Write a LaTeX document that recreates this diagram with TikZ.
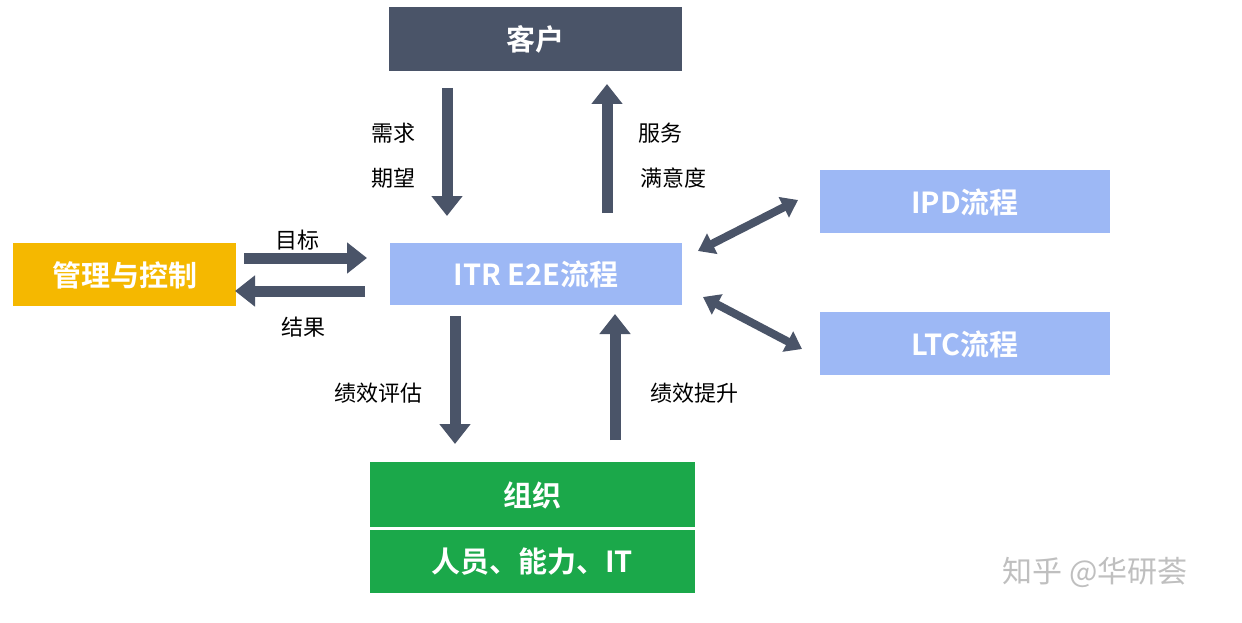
\documentclass[tikz,border=0pt]{standalone}
\usepackage{fontspec}
\setmainfont{Noto Sans CJK SC}
\newfontfamily\cjkb{Noto Sans CJK SC Bold}
\usetikzlibrary{arrows.meta}
\definecolor{slate}{HTML}{4A5468}
\definecolor{lblue}{HTML}{9DB8F5}
\definecolor{orng}{HTML}{F5B800}
\definecolor{grn}{HTML}{1BA84A}
\tikzset{
  box/.style={draw=none,inner sep=0pt,text=white,font=\cjkb\fontsize{29}{32}\selectfont},
  lbl/.style={font=\fontsize{22}{26}\selectfont,text=black},
  bar/.style={draw=slate,line width=11pt,-{Triangle[width=30pt,length=20pt]}},
  dbar/.style={draw=slate,line width=8pt,{Triangle[width=22pt,length=16pt]}-{Triangle[width=22pt,length=16pt]}}
}
\begin{document}
\begin{tikzpicture}[x=1pt,y=-1pt]
\useasboundingbox[fill=white] (0,0) rectangle (1242,623);
\fill[slate] (389,7) rectangle (682,71);
\node[box] (kh) at (535.5,39) {客户};
\fill[lblue] (390,243) rectangle (682,305);
\node[box] (itr) at (536,274) {ITR E2E流程};
\fill[lblue] (820,170) rectangle (1110,233);
\node[box] (ipd) at (965,202) {IPD流程};
\fill[lblue] (820,312) rectangle (1110,375);
\node[box] (ltc) at (965,344) {LTC流程};
\fill[orng] (13,243) rectangle (236,306);
\node[box] (gl) at (124.5,275) {管理与控制};
\fill[grn] (370,462) rectangle (695,527);
\fill[grn] (370,530) rectangle (695,593);
\node[box] (zz) at (532,495) {组织};
\node[box] (ry) at (532,562) {人员、能力、IT};
\coordinate (a1) at (447,88); \coordinate (a2) at (447,216);
\draw[bar] (a1) -- (a2);
\coordinate (b1) at (607,213); \coordinate (b2) at (607,84);
\draw[bar] (b1) -- (b2);
\coordinate (c1) at (244,258); \coordinate (c2) at (367,258);
\draw[bar] (c1) -- (c2);
\coordinate (d1) at (365,291); \coordinate (d2) at (235,291);
\draw[bar] (d1) -- (d2);
\coordinate (e1) at (455,316); \coordinate (e2) at (455,444);
\draw[bar] (e1) -- (e2);
\coordinate (f1) at (615,440); \coordinate (f2) at (615,314);
\draw[bar] (f1) -- (f2);
\coordinate (g1) at (698,251); \coordinate (g2) at (798,200);
\draw[dbar] (g1) -- (g2);
\coordinate (h1) at (703,297); \coordinate (h2) at (802,349);
\draw[dbar] (h1) -- (h2);
\node[lbl] (l1) at (393,133) {需求};
\node[lbl] (l2) at (393,178) {期望};
\node[lbl] (l3) at (660,133) {服务};
\node[lbl] (l4) at (673,178) {满意度};
\node[lbl] (l5) at (297,240) {目标};
\node[lbl] (l6) at (303,327) {结果};
\node[lbl] (l7) at (378,393) {绩效评估};
\node[lbl] (l8) at (694,393) {绩效提升};
\node[font=\fontsize{30}{34}\selectfont,text=black!25] (wm) at (1095,572) {知乎 @华研荟};
\end{tikzpicture}
\end{document}
